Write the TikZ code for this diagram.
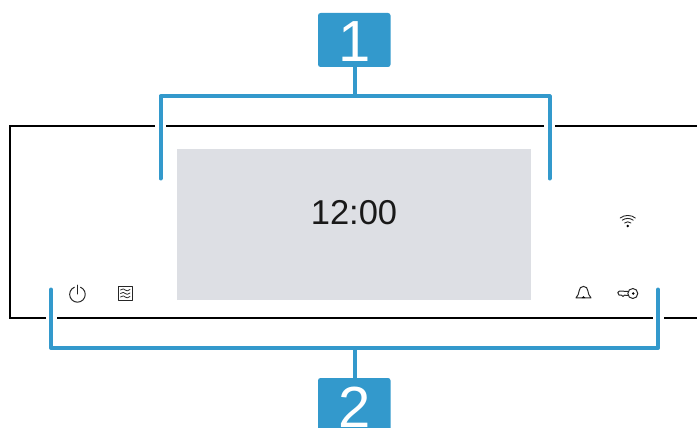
\documentclass[tikz,border=0pt]{standalone}
\usepackage{fontspec}
\setmainfont{Liberation Sans}
\definecolor{calloutblue}{HTML}{3399CC}
\definecolor{screengray}{HTML}{DDDFE4}
\tikzset{
  badge/.style={fill=calloutblue,rounded corners=2.5pt,minimum width=72.5pt,minimum height=54pt,inner sep=0pt,text=white,font=\fontsize{58}{58}\selectfont},
  bracketline/.style={draw=calloutblue,line width=4pt,line join=round,line cap=round},
  framerule/.style={draw=black,line width=2.2pt},
  icon/.style={draw=black!85,line width=1pt,line cap=round,line join=round}
}
\begin{document}
\begin{tikzpicture}[x=1pt,y=-1pt]
\useasboundingbox (0,0) rectangle (697,428);
\clip (0,0) rectangle (697,428);
% frame
\draw[framerule] (697,126) -- (555,126) (544,126) -- (166,126) (155,126) -- (10,126) -- (10,318) -- (46,318) (57,318) -- (653,318) (664,318) -- (697,318);
% screen
\node[fill=screengray,minimum width=354pt,minimum height=151.5pt,inner sep=0pt] (screen) at (354.25,224.5) {};
\node[font=\fontsize{34.5}{35}\selectfont,text=black!90,inner sep=0pt] (clock) at (354,212.5) {12:00};
% callouts
\node[badge] (one) at (354.25,40) {};
\node[inner sep=0pt,text=white,font=\fontsize{58}{58}\selectfont,anchor=base] (onelabel) at (354.25,62) {1};
\node[badge,minimum height=70pt] (two) at (354.25,413) {};
\node[inner sep=0pt,text=white,font=\fontsize{58}{58}\selectfont,anchor=base] (twolabel) at (354.25,427) {2};
\coordinate (tl) at (160.5,96.5);
\coordinate (tr) at (549.5,96.5);
\coordinate (tle) at (160.5,178.5);
\coordinate (tre) at (549.5,178.5);
\coordinate (tm) at (355,96.5);
\coordinate (bl) at (51,348);
\coordinate (br) at (658,348);
\coordinate (ble) at (51,289.5);
\coordinate (bre) at (658,289.5);
\coordinate (bm) at (355,348);
\draw[bracketline] (tle) -- (tl) -- (tr) -- (tre);
\draw[bracketline,line cap=butt] (one.south -| tm) -- (tm);
\draw[bracketline] (ble) -- (bl) -- (br) -- (bre);
\draw[bracketline,line cap=butt] (two.north -| bm) -- (bm);
% power icon
\draw[icon] (74.4,287.2) arc[start angle=-113,end angle=-427,radius=7.8];
\draw[icon] (77.4,285.2) -- (77.4,294);
% waves icon
\draw[icon,line width=0.9pt] (118.5,286.3) rectangle (132,300.5);
\foreach \yy in {290,293.5,297}
  \draw[icon,line width=0.8pt] (120.5,\yy) .. controls (123,\yy-2) and (124,\yy-1) .. (125.2,\yy) .. controls (126.5,\yy+1) and (128,\yy+1.5) .. (130,\yy-0.5);
% wifi icon
\fill[black] (627.7,226) circle (1.3);
\draw[icon,line width=0.9pt] (624.6,223) .. controls (626.5,221.4) and (629,221.4) .. (630.9,223);
\draw[icon,line width=0.9pt] (622.3,220.2) .. controls (625.5,217.8) and (630,217.8) .. (633.2,220.2);
\draw[icon,line width=0.9pt] (620.2,218) .. controls (624.5,214.6) and (631,214.6) .. (635.4,218);
% bell icon
\draw[icon] (576,297.9) .. controls (580.5,294) and (577.5,286.4) .. (583.5,286.4) .. controls (589.5,286.4) and (586.5,294) .. (591,297.9) -- cycle;
\fill[black] (581.6,298) arc[start angle=180,end angle=360,radius=1.9] -- cycle;
% key icon
\draw[icon] (632.8,293.5) circle (5);
\fill[black] (633.2,293.5) circle (1.3);
\draw[icon] (628.2,291.5) -- (619.5,291) -- (617.8,292.5) -- (619,295) -- (621.5,295.2) -- (623,296.4) -- (624.5,295.2) -- (628.2,295.4);
\end{tikzpicture}
\end{document}
